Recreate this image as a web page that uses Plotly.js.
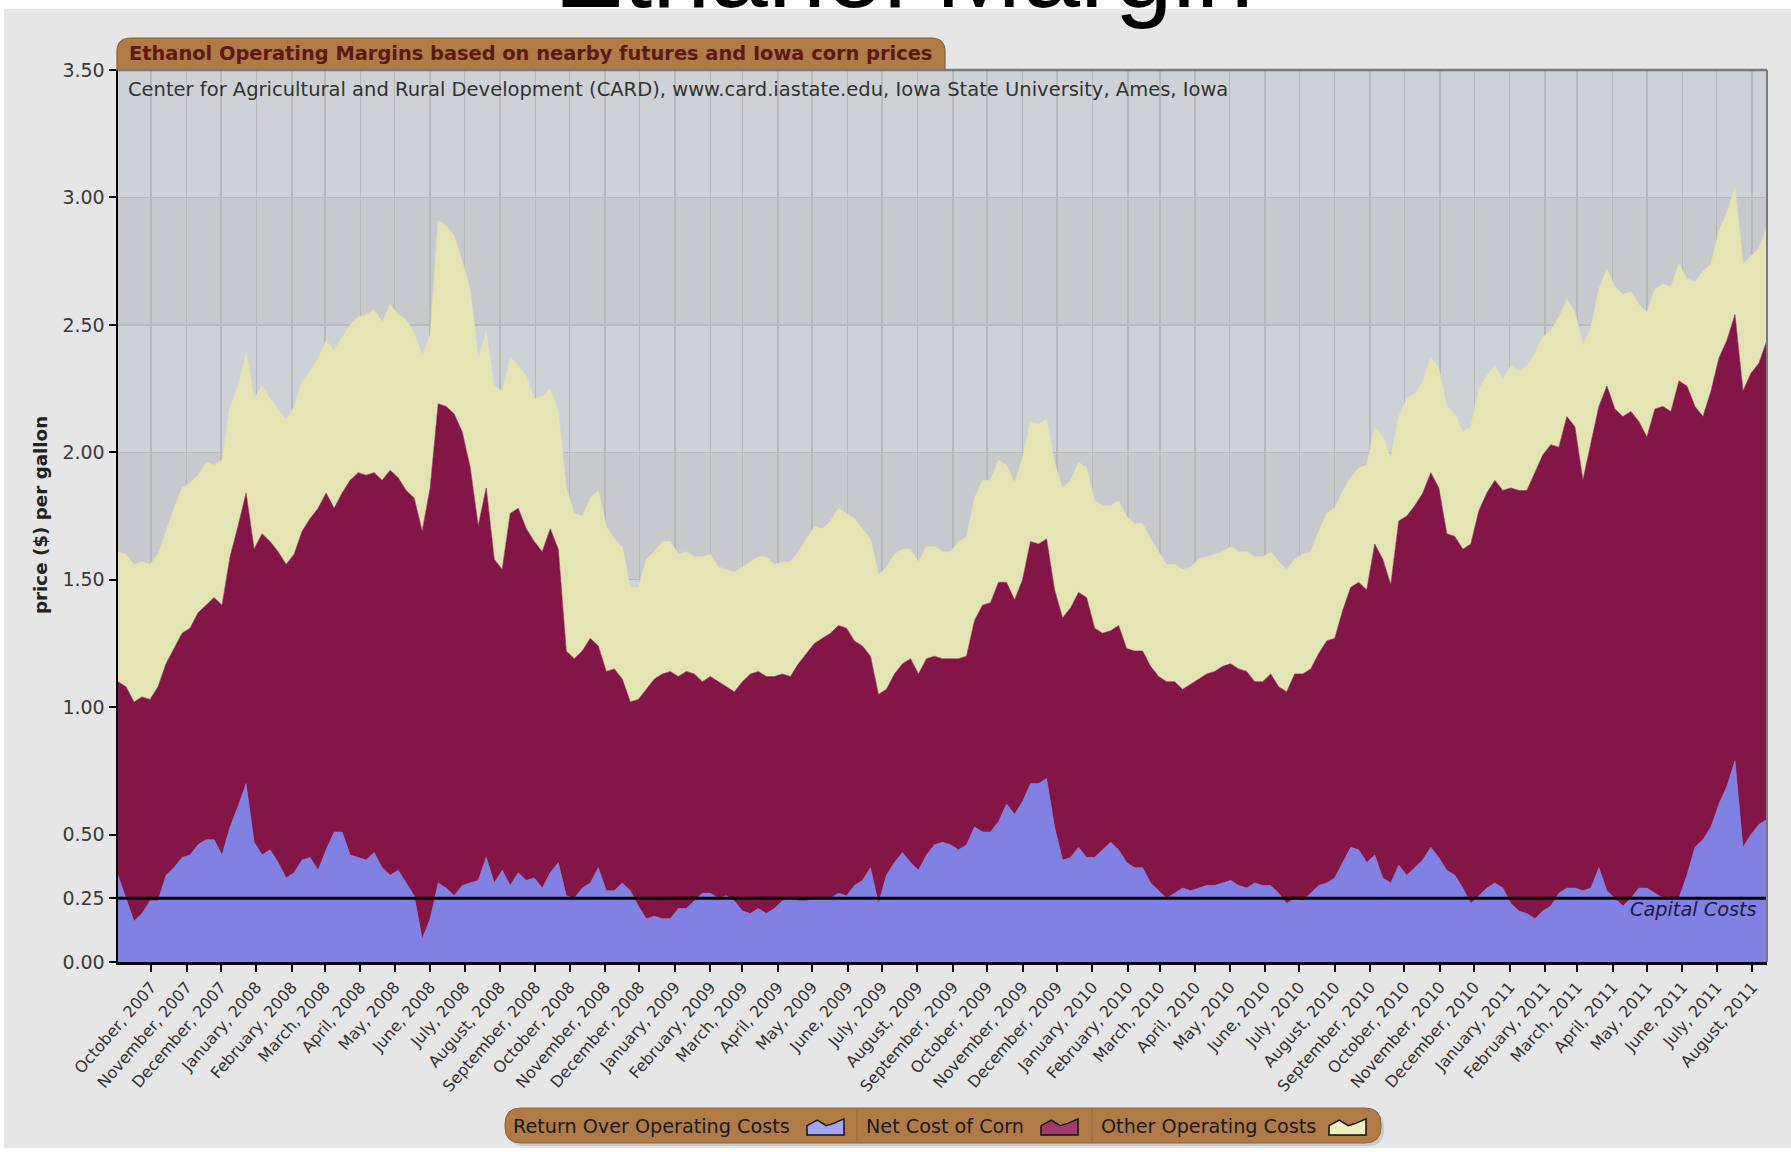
<!DOCTYPE html>
<html><head><meta charset="utf-8">
<script src="https://cdn.plot.ly/plotly-3.0.1.min.js"></script>
<style>html,body{margin:0;padding:0;background:#fff;overflow:hidden}#chart{width:1791px;height:1152px}</style>
</head><body><div id="chart"></div>
<script>
// ---------------- DATA (weekly readings, first week 2007-09-02) ----------------
const firstWeek = [2007, 8, 2]; // year, zero-based month, day
// top edge of "Return Over Operating Costs" ($/gal)
const returnTop = [
0.34,0.25,0.16,0.19,0.24,0.24,0.34,0.37,0.41,0.42,
0.46,0.48,0.48,0.42,0.53,0.61,0.70,0.47,0.42,0.44,
0.39,0.33,0.35,0.40,0.41,0.36,0.44,0.51,0.51,0.42,
0.41,0.40,0.43,0.37,0.34,
0.36,0.31,0.26,0.09,0.17,
0.31,0.29,0.26,0.30,0.31,0.32,0.41,0.31,0.36,0.30,
0.35,0.32,0.33,0.29,0.35,0.39,0.26,0.25,0.29,0.31,
0.37,0.28,0.28,0.31,0.28,0.22,0.17,0.18,0.17,
0.17,0.21,0.21,0.24,0.27,0.27,0.25,0.26,0.24,0.20,
0.19,0.21,0.19,0.21,0.24,0.25,0.24,0.24,0.25,0.25,
0.25,0.27,0.26,0.30,0.32,0.37,0.23,0.34,0.39,0.43,
0.39,0.36,0.42,0.46,0.47,
0.46,0.44,0.46,0.53,0.51,0.51,0.55,0.62,0.58,0.63,
0.70,0.70,0.72,0.53,0.40,0.41,0.45,0.41,0.41,0.44,
0.47,0.44,0.39,0.37,0.37,0.31,0.28,0.25,0.27,0.29,
0.28,0.29,0.30,0.30,
0.31,0.32,0.30,0.29,0.31,0.30,0.30,0.27,0.23,0.25,
0.24,0.27,0.30,0.31,0.33,0.39,0.45,0.44,0.39,0.42,
0.33,0.31,0.38,0.34,0.37,0.40,0.45,0.41,0.36,0.34,
0.29,0.23,0.26,0.29,
0.31,0.29,0.23,0.20,0.19,0.17,0.20,0.22,0.27,0.29,
0.29,0.28,0.29,0.37,0.28,0.25,0.22,0.25,0.29,0.29,
0.27,0.25,0.25,0.25,0.34,0.45,0.48,0.53,0.62,0.69,
0.79,0.45,0.50,0.54,0.56];
// top edge of "Net Cost of Corn" (stacked on return)
const cornTop = [
1.10,1.08,1.02,1.04,1.03,1.08,1.17,1.23,1.29,1.31,
1.37,1.40,1.43,1.40,1.59,1.71,1.84,1.62,1.68,1.65,
1.61,1.56,1.60,1.69,1.74,1.78,1.84,1.78,1.84,1.89,
1.92,1.91,1.92,1.89,1.93,
1.90,1.85,1.82,1.69,1.86,
2.19,2.18,2.15,2.08,1.94,1.71,1.86,1.58,1.54,1.76,
1.78,1.70,1.65,1.61,1.70,1.62,1.22,1.19,1.22,1.27,
1.24,1.14,1.15,1.11,1.02,1.03,1.07,1.11,1.13,
1.14,1.12,1.14,1.13,1.10,1.12,1.10,1.08,1.06,1.10,
1.13,1.14,1.12,1.12,1.13,1.12,1.17,1.21,1.25,1.27,
1.29,1.32,1.31,1.26,1.24,1.20,1.05,1.07,1.13,1.17,
1.19,1.13,1.19,1.20,1.19,
1.19,1.19,1.20,1.34,1.40,1.41,1.49,1.49,1.42,1.50,
1.65,1.64,1.66,1.46,1.35,1.39,1.45,1.43,1.31,1.29,
1.30,1.32,1.23,1.22,1.22,1.16,1.12,1.10,1.10,1.07,
1.09,1.11,1.13,1.14,
1.16,1.17,1.15,1.14,1.10,1.10,1.13,1.08,1.06,1.13,
1.13,1.15,1.21,1.26,1.27,1.38,1.47,1.49,1.46,1.64,
1.58,1.48,1.73,1.75,1.79,1.84,1.92,1.86,1.68,1.67,
1.62,1.64,1.77,1.84,
1.89,1.85,1.86,1.85,1.85,1.92,1.99,2.03,2.02,2.14,
2.10,1.89,2.03,2.18,2.26,2.17,2.14,2.16,2.12,2.06,
2.17,2.18,2.16,2.28,2.26,2.18,2.14,2.24,2.37,2.44,
2.54,2.24,2.31,2.35,2.44];
// top edge of "Other Operating Costs" (total)
const totalTop = [
1.61,1.60,1.56,1.57,1.56,1.60,1.69,1.78,1.86,1.88,
1.91,1.96,1.95,1.97,2.18,2.26,2.39,2.21,2.26,2.21,
2.17,2.13,2.18,2.28,2.32,2.37,2.44,2.40,2.45,2.50,
2.53,2.54,2.56,2.51,2.58,
2.54,2.52,2.47,2.38,2.46,
2.91,2.89,2.85,2.75,2.64,2.37,2.47,2.26,2.24,2.37,
2.34,2.30,2.21,2.22,2.25,2.16,1.86,1.76,1.75,1.82,
1.85,1.71,1.66,1.63,1.47,1.47,1.58,1.61,1.65,
1.65,1.60,1.61,1.59,1.59,1.60,1.55,1.54,1.53,1.55,
1.57,1.59,1.59,1.56,1.57,1.57,1.61,1.66,1.71,1.70,
1.73,1.78,1.76,1.74,1.70,1.66,1.52,1.55,1.60,1.62,
1.62,1.57,1.63,1.63,1.61,
1.61,1.65,1.67,1.82,1.89,1.89,1.97,1.95,1.88,1.98,
2.12,2.11,2.13,1.96,1.86,1.89,1.96,1.94,1.81,1.79,
1.79,1.81,1.75,1.72,1.72,1.66,1.61,1.56,1.56,1.54,
1.55,1.58,1.59,1.60,
1.61,1.63,1.61,1.61,1.59,1.59,1.61,1.57,1.54,1.58,
1.60,1.61,1.69,1.76,1.78,1.85,1.90,1.94,1.95,2.10,
2.06,1.98,2.14,2.21,2.23,2.28,2.37,2.33,2.18,2.15,
2.08,2.10,2.25,2.30,
2.34,2.29,2.34,2.32,2.34,2.39,2.45,2.48,2.53,2.60,
2.55,2.42,2.49,2.64,2.72,2.65,2.62,2.63,2.58,2.55,
2.64,2.66,2.65,2.74,2.68,2.67,2.71,2.74,2.87,2.94,
3.04,2.74,2.77,2.80,2.89];
const seriesNames = ['Return Over Operating Costs', 'Net Cost of Corn', 'Other Operating Costs'];
const seriesColors = ['#8180e3', '#831547', '#e3e3b3'];
const iconColors = ['#a4a4f2', '#a23a6c', '#efefc2'];
const capitalCost = 0.25;
const monthNames = ['January','February','March','April','May','June','July','August','September','October','November','December'];
const firstTickMonth = [2007, 9]; // October 2007
const tickCount = 47;             // through August 2011
const yTickVals = [0, 0.25, 0.5, 1, 1.5, 2, 2.5, 3, 3.5];
const titleText = 'Ethanol Margin';
const tabText = 'Ethanol Operating Margins based on nearby futures and Iowa corn prices';
const sourceText = 'Center for Agricultural and Rural Development (CARD), www.card.iastate.edu, Iowa State University, Ames, Iowa';
const yTitle = 'price ($) per gallon';
const capitalLabel = 'Capital Costs';
const xRange = ['2007-09-02', '2011-08-14'];

// ---------------- build ----------------
const t0 = Date.UTC(firstWeek[0], firstWeek[1], firstWeek[2]);
const dates = returnTop.map((_, k) => new Date(t0 + k * 7 * 864e5).toISOString().slice(0, 10));
const tickVals = [], tickText = [];
for (let i = 0; i < tickCount; i++) {
  const m = (firstTickMonth[1] + i) % 12, y = firstTickMonth[0] + Math.floor((firstTickMonth[1] + i) / 12);
  tickVals.push(y + '-' + String(m + 1).padStart(2, '0') + '-01');
  tickText.push(monthNames[m] + ', ' + y);
}

const L = 118, T = 70, W = 1649, H = 892;
const fx = p => (p - L) / W, fy = p => (T + H - p) / H;
const P = (x, y) => fx(x) + ',' + fy(y);

const levels = [returnTop, cornTop, totalTop];
const traces = levels.map((arr, i) => ({
  type: 'scatter', mode: 'lines', x: dates, y: arr, name: seriesNames[i],
  line: {color: seriesColors[i], width: 0.6, shape: 'linear'},
  fill: i === 0 ? 'tozeroy' : 'tonexty', fillcolor: seriesColors[i],
  hoverinfo: 'x+y', showlegend: false
}));

const shapes = [];
// white frame around the grey panel
shapes.push({type: 'rect', xref: 'paper', yref: 'paper', x0: fx(-5), x1: fx(1800), y0: fy(9), y1: fy(-5), fillcolor: '#ffffff', line: {width: 0}, layer: 'below'});
shapes.push({type: 'rect', xref: 'paper', yref: 'paper', x0: fx(-5), x1: fx(4), y0: fy(1160), y1: fy(-5), fillcolor: '#ffffff', line: {width: 0}, layer: 'below'});
shapes.push({type: 'rect', xref: 'paper', yref: 'paper', x0: fx(-5), x1: fx(1800), y0: fy(1160), y1: fy(1148), fillcolor: '#ffffff', line: {width: 0}, layer: 'below'});
// alternating plot bands
[[0, 0.5, '#ced2d6'], [0.5, 1, '#c8c9cc'], [1, 1.5, '#ced2d6'], [1.5, 2, '#c8c9cc'], [2, 2.5, '#ced2d6'], [2.5, 3, '#c8c9cc'], [3, 3.5, '#ced2d6']].forEach(b => {
  shapes.push({type: 'rect', xref: 'x', yref: 'y', x0: xRange[0], x1: xRange[1], y0: b[0], y1: b[1], fillcolor: b[2], line: {width: 0}, layer: 'below'});
});
// capital cost line
shapes.push({type: 'line', xref: 'paper', yref: 'y', x0: 0, x1: 1, y0: capitalCost, y1: capitalCost, line: {color: '#000', width: 3}, layer: 'above'});
// header tab (rounded top corners)
function tabPath(x0, y0, x1, y1, r) {
  return 'M' + P(x0, y1) + ' L' + P(x0, y0 + r) + ' Q' + P(x0, y0) + ' ' + P(x0 + r, y0) +
    ' L' + P(x1 - r, y0) + ' Q' + P(x1, y0) + ' ' + P(x1, y0 + r) + ' L' + P(x1, y1) + ' Z';
}
function pillPath(x0, y0, x1, y1, r) {
  return 'M' + P(x0 + r, y0) + ' L' + P(x1 - r, y0) + ' Q' + P(x1, y0) + ' ' + P(x1, y0 + r) +
    ' L' + P(x1, y1 - r) + ' Q' + P(x1, y1) + ' ' + P(x1 - r, y1) + ' L' + P(x0 + r, y1) +
    ' Q' + P(x0, y1) + ' ' + P(x0, y1 - r) + ' L' + P(x0, y0 + r) + ' Q' + P(x0, y0) + ' ' + P(x0 + r, y0) + ' Z';
}
shapes.push({type: 'path', xref: 'paper', yref: 'paper', path: tabPath(117, 38, 945, 70, 14), fillcolor: '#b07b47', line: {color: '#86603c', width: 1.2}, layer: 'above'});
// plot frame top/right
shapes.push({type: 'line', xref: 'paper', yref: 'paper', x0: 0, x1: 1, y0: 1, y1: 1, line: {color: '#7a7a7a', width: 2.5}, layer: 'above'});
shapes.push({type: 'line', xref: 'paper', yref: 'paper', x0: 1, x1: 1, y0: 0, y1: 1, line: {color: '#7a7a7a', width: 2}, layer: 'above'});
// legend pill
shapes.push({type: 'path', xref: 'paper', yref: 'paper', path: pillPath(508, 1111, 1384, 1146, 16), fillcolor: 'rgba(0,0,0,0.12)', line: {width: 0}, layer: 'above'});
shapes.push({type: 'path', xref: 'paper', yref: 'paper', path: pillPath(505, 1108, 1381, 1143, 16), fillcolor: '#b07b47', line: {color: '#8a6440', width: 1}, layer: 'above'});
[857, 1092].forEach(x => shapes.push({type: 'line', xref: 'paper', yref: 'paper', x0: fx(x), x1: fx(x), y0: fy(1109), y1: fy(1142), line: {color: '#96693f', width: 1}, layer: 'above'}));
const iconX = [807, 1041, 1329];
const iconShape = [[0, 1], [0, 0.45], [0.28, 0.12], [0.52, 0.45], [0.74, 0.3], [1, 0.05], [1, 1]];
iconX.forEach((x0, i) => {
  const w = 37, h = 17, y0 = 1118;
  const path = 'M' + iconShape.map(p => P(x0 + p[0] * w, y0 + p[1] * h)).join(' L') + ' Z';
  shapes.push({type: 'path', xref: 'paper', yref: 'paper', path: path, fillcolor: iconColors[i], line: {color: '#111', width: 1.5}, layer: 'above'});
});

const ann = [];
const A = o => ann.push(Object.assign({showarrow: false, xref: 'paper', yref: 'paper'}, o));
A({text: titleText, x: fx(904), y: fy(31), xanchor: 'center', yanchor: 'bottom', font: {family: 'Liberation Sans, Arial, sans-serif', size: 104, color: '#000'}});
A({text: tabText, x: fx(127), y: fy(54), xanchor: 'left', yanchor: 'middle', font: {family: 'DejaVu Sans, Verdana, sans-serif', size: 19.4, color: '#5e1a12', weight: 'bold'}});
A({text: sourceText, x: fx(126), y: fy(90), xanchor: 'left', yanchor: 'middle', font: {family: 'DejaVu Sans, Verdana, sans-serif', size: 19.5, color: '#333'}});
A({text: yTitle, x: fx(40), y: fy(515), xanchor: 'center', yanchor: 'middle', textangle: -90, font: {family: 'DejaVu Sans, Verdana, sans-serif', size: 18.3, color: '#222', weight: 'bold'}});
A({text: capitalLabel, x: fx(1759), y: fy(909), xanchor: 'right', yanchor: 'middle', font: {family: 'DejaVu Sans, Verdana, sans-serif', size: 19.3, color: '#1b1b45', style: 'italic'}});
const legendTextX = [511, 864, 1099];
seriesNames.forEach((n, i) => A({text: n, x: fx(legendTextX[i]), y: fy(1126), xanchor: 'left', yanchor: 'middle', font: {family: 'DejaVu Sans, Verdana, sans-serif', size: 19.2, color: '#1a1a1a'}}));

const layout = {
  width: 1791, height: 1152,
  margin: {l: L, r: 1791 - L - W, t: T, b: 1152 - T - H, pad: 0},
  paper_bgcolor: '#e6e6e6', plot_bgcolor: '#ced2d6',
  showlegend: false,
  xaxis: {
    type: 'date', range: xRange, tickmode: 'array', tickvals: tickVals, ticktext: tickText,
    tickangle: -49, tickfont: {family: 'DejaVu Sans, Verdana, sans-serif', size: 16, color: '#333'},
    ticks: 'outside', ticklen: 7, tickwidth: 2, tickcolor: '#000',
    showgrid: true, gridcolor: '#b9b9b9', gridwidth: 1.5,
    showline: true, linecolor: '#000', linewidth: 2.5, zeroline: false, fixedrange: true
  },
  yaxis: {
    range: [0, 3.5], tickmode: 'array', tickvals: yTickVals, tickformat: '.2f',
    tickfont: {family: 'DejaVu Sans, Verdana, sans-serif', size: 19, color: '#3a3a3a'},
    ticks: 'outside', ticklen: 7, tickwidth: 2, tickcolor: '#000',
    showgrid: true, gridcolor: '#b9b9b9', gridwidth: 1.5,
    showline: true, linecolor: '#000', linewidth: 2.5, zeroline: false, fixedrange: true
  },
  shapes: shapes, annotations: ann
};
Plotly.newPlot('chart', traces, layout, {displayModeBar: false, staticPlot: true});
</script></body></html>
